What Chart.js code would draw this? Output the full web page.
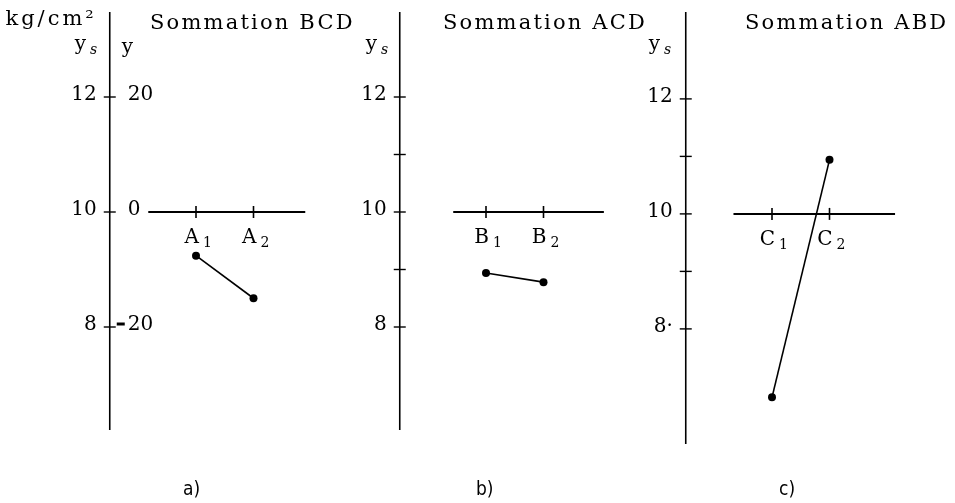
<!DOCTYPE html>
<html>
<head>
<meta charset="utf-8">
<script src="https://cdn.jsdelivr.net/npm/chart.js@4"></script>
<style>
  body { margin: 0; background: #fff; }
  #wrap { position: relative; width: 955px; height: 503px; }
  canvas { position: absolute; top: 0; left: 0; }
</style>
</head>
<body>
<div id="wrap">
  <canvas id="panelA" width="955" height="503"></canvas>
  <canvas id="panelB" width="955" height="503"></canvas>
  <canvas id="panelC" width="955" height="503"></canvas>
</div>
<script>
// chart data
const panelTitles = ['Sommation BCD', 'Sommation ACD', 'Sommation ABD'];
const panelLetters = ['A', 'B', 'C'];
const captions = ['a)', 'b)', 'c)'];
const levels = [1, 2];
const sumBCD = [9.24, 8.5];
const sumACD = [8.94, 8.78];
const sumABD = [6.81, 10.94];
const majorTicks = [12, 10, 8];
const minorTicks = [11, 9];
const yTicks = [20, 0, -20];   // right-hand "y" scale on panel a

const serif = '"DejaVu Serif", serif';
const pxPerUnit = 57.5;

// pixel of level 1, top of y range, axis bottom, horizontal line extent, text spots
const layout = [
    { canvas: 'panelA', lvl1: 196, yMax: 13.687, axisEnd: 6.21, line: [0.17, 2.9], titleX: 150, capX: 183, minor: false, ysX: 86 },
    { canvas: 'panelB', lvl1: 486, yMax: 13.687, axisEnd: 6.21, line: [0.43, 3.05], titleX: 443, capX: 476, minor: true, ysX: 377 },
    { canvas: 'panelC', lvl1: 772, yMax: 13.72, axisEnd: 6.0, line: [0.33, 3.14], titleX: 745, capX: 779, minor: true, ysX: 660 }
];
const series = [sumBCD, sumACD, sumABD];

const drawSub = (ctx, main, sub, x, y, italicSub) => {
    ctx.textAlign = 'right';
    ctx.font = '20px ' + serif;
    ctx.fillText(main, x, y);
    ctx.textAlign = 'left';
    ctx.font = (italicSub ? 'italic ' : '') + '14px ' + serif;
    ctx.fillText(sub, x + 4, y + 4);
};

const panelPlugin = (i) => ({
    id: 'panel' + i,
    beforeDatasetsDraw(chart) {
        const { ctx } = chart;
        const xs = chart.scales.x, ys = chart.scales.y;
        const L = layout[i];
        const ax = xs.getPixelForValue(-0.5);
        ctx.save();
        ctx.strokeStyle = '#000';
        ctx.fillStyle = '#000';

        // vertical axis
        ctx.lineWidth = 1.6;
        ctx.beginPath();
        ctx.moveTo(ax, 12);
        ctx.lineTo(ax, ys.getPixelForValue(L.axisEnd));
        ctx.stroke();

        // ticks
        const ticks = L.minor ? majorTicks.concat(minorTicks) : majorTicks;
        ctx.lineWidth = 1.4;
        ticks.forEach(v => {
            const py = ys.getPixelForValue(v);
            ctx.beginPath();
            ctx.moveTo(ax - 6, py);
            ctx.lineTo(ax + 6, py);
            ctx.stroke();
        });

        // left tick labels
        ctx.font = '20px ' + serif;
        ctx.textAlign = 'right';
        ctx.textBaseline = 'middle';
        majorTicks.forEach(v => {
            ctx.fillText(String(v) + (i === 2 && v === 8 ? '·' : ''), ax - 13, ys.getPixelForValue(v) - 2);
        });

        // right-hand y scale (panel a only)
        if (i === 0) {
            const y2 = chart.scales.y2;
            ctx.textAlign = 'left';
            yTicks.forEach(v => {
                const py = y2.getPixelForValue(v);
                const label = v < 0 ? String(-v) : String(v);
                ctx.fillText(label, ax + 18, py - 2);
                if (v < 0) {
                    ctx.lineWidth = 3;
                    ctx.beginPath();
                    ctx.moveTo(ax + 7, py - 3);
                    ctx.lineTo(ax + 15, py - 3);
                    ctx.stroke();
                }
            });
            ctx.textBaseline = 'alphabetic';
            ctx.textAlign = 'left';
            ctx.fillText('y', ax + 12, 53);
            ctx.textAlign = 'right';
            ctx.font = '21px ' + serif;
            ctx.letterSpacing = '3px';
            ctx.fillText('kg/cm²', ax - 13, 25);
            ctx.letterSpacing = '0px';
        }

        // y_s label
        ctx.textBaseline = 'alphabetic';
        drawSub(ctx, 'y', 's', L.ysX, 50, true);

        // title
        ctx.font = '21px ' + serif;
        ctx.textAlign = 'left';
        ctx.letterSpacing = '2.2px';
        ctx.fillText(panelTitles[i], L.titleX, 29);
        ctx.letterSpacing = '0px';

        // horizontal reference line at ys = 10
        const py10 = ys.getPixelForValue(10);
        ctx.lineWidth = 2;
        ctx.beginPath();
        ctx.moveTo(xs.getPixelForValue(L.line[0]), py10);
        ctx.lineTo(xs.getPixelForValue(L.line[1]), py10);
        ctx.stroke();

        // level ticks and labels
        ctx.lineWidth = 1.6;
        levels.forEach(lv => {
            const px = xs.getPixelForValue(lv);
            ctx.beginPath();
            ctx.moveTo(px, py10 - 6);
            ctx.lineTo(px, py10 + 6);
            ctx.stroke();
            drawSub(ctx, panelLetters[i], String(lv), px + 3, py10 + 31, false);
        });

        // caption
        ctx.font = '19px "DejaVu Sans Condensed", "DejaVu Sans", sans-serif';
        ctx.textAlign = 'left';
        ctx.fillText(captions[i], L.capX, 495);
        ctx.restore();
    }
});

layout.forEach((L, i) => {
    const xMin = 1 - L.lvl1 / pxPerUnit;
    const xMax = xMin + 955 / pxPerUnit;
    const yMin = L.yMax - 503 / pxPerUnit;
    const scales = {
        x: { type: 'linear', min: xMin, max: xMax, display: false },
        y: { type: 'linear', min: yMin, max: L.yMax, display: false }
    };
    if (i === 0) {
        scales.y2 = { type: 'linear', min: (yMin - 10) * 10, max: (L.yMax - 10) * 10, display: false };
    }
    new Chart(document.getElementById(L.canvas), {
        type: 'line',
        data: {
            datasets: [{
                data: levels.map((lv, k) => ({ x: lv, y: series[i][k] })),
                borderColor: '#000',
                backgroundColor: '#000',
                borderWidth: 1.6,
                pointRadius: 4,
                pointBorderWidth: 0,
                pointHoverRadius: 4,
                tension: 0
            }]
        },
        options: {
            responsive: false,
            animation: false,
            devicePixelRatio: 1,
            layout: { padding: 0, autoPadding: false },
            events: [],
            plugins: { legend: { display: false }, tooltip: { enabled: false } },
            scales
        },
        plugins: [panelPlugin(i)]
    });
});
</script>
</body>
</html>
